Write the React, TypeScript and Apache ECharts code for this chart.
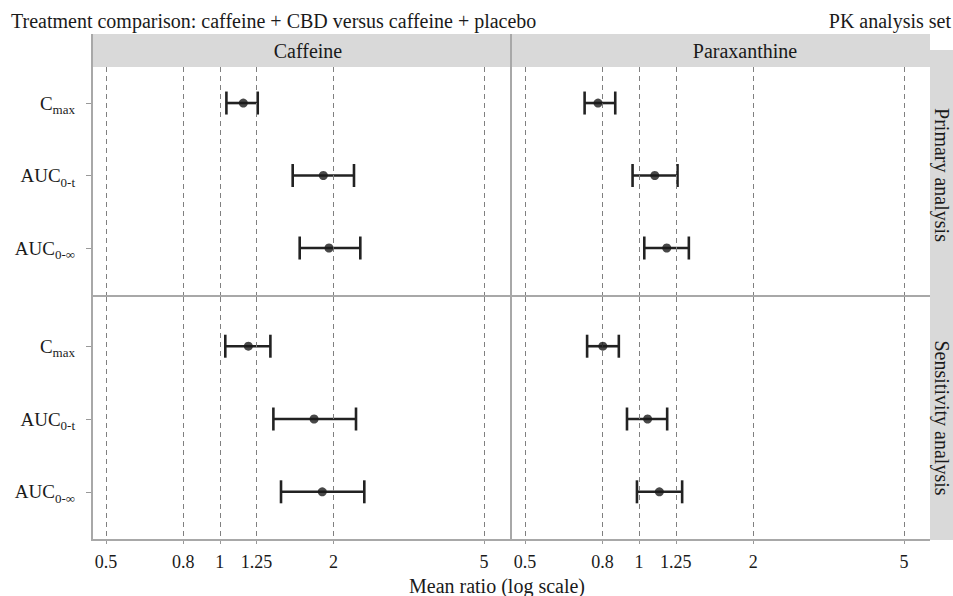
import React, { useEffect, useRef } from 'react';
import * as echarts from 'echarts';

const measureLabels = ['{m|C}{s|max}', '{m|AUC}{s|0-t}', '{m|AUC}{s|0-∞}'];
const analytes = ['Caffeine', 'Paraxanthine'];
const analyses = ['Primary analysis', 'Sensitivity analysis'];
const xTicks = [0.5, 0.8, 1, 1.25, 2, 5];

// rows: Cmax, AUC0-t, AUC0-inf ; each [point, lower, upper]
const caffeinePrimary = [[1.154, 1.041, 1.26], [1.879, 1.559, 2.265], [1.945, 1.627, 2.354]];
const caffeineSensitivity = [[1.19, 1.034, 1.361], [1.776, 1.386, 2.293], [1.867, 1.452, 2.412]];
const paraxanthinePrimary = [[0.779, 0.718, 0.865], [1.1, 0.961, 1.263], [1.183, 1.032, 1.353]];
const paraxanthineSensitivity = [[0.802, 0.729, 0.884], [1.053, 0.929, 1.186], [1.131, 0.987, 1.299]];

const FONT = 'Liberation Serif';
const TXT = '#1a1a1a';
const BORDER = '#a8a8a8';

export default function App() {
  const ref = useRef<HTMLDivElement>(null);
  useEffect(() => {
    document.body.style.margin = '0';
    if (!ref.current) return;
    const chart = echarts.init(ref.current, null, { renderer: 'svg' });

    const panels = [
      { data: caffeinePrimary, left: 92, width: 418, top: 67, height: 229, ymin: 0.503, ymax: 3.662, col: 0, row: 0 },
      { data: paraxanthinePrimary, left: 511, width: 419, top: 67, height: 229, ymin: 0.503, ymax: 3.662, col: 1, row: 0 },
      { data: caffeineSensitivity, left: 92, width: 418, top: 297, height: 243, ymin: 0.324, ymax: 3.662, col: 0, row: 1 },
      { data: paraxanthineSensitivity, left: 511, width: 419, top: 297, height: 243, ymin: 0.324, ymax: 3.662, col: 1, row: 1 },
    ];

    const grid = panels.map(p => ({ left: p.left, width: p.width, top: p.top, height: p.height, containLabel: false }));
    const xAxis = panels.map((p, i) => ({
      type: 'log',
      logBase: 10,
      gridIndex: i,
      min: 0.459,
      max: 5.86,
      axisLine: { show: false },
      splitLine: { show: false },
      axisTick: { show: p.row === 1, customValues: xTicks, length: 4, lineStyle: { color: '#999' } },
      axisLabel: {
        show: p.row === 1,
        customValues: xTicks,
        margin: 13,
        fontSize: 18,
        fontFamily: FONT,
        color: TXT,
        formatter: (v: number) => String(+Number(v).toPrecision(3)),
      },
    }));
    const yAxis = panels.map((p, i) => ({
      type: 'value',
      gridIndex: i,
      inverse: true,
      min: p.ymin,
      max: p.ymax,
      axisLine: { show: false },
      splitLine: { show: false },
      axisTick: { show: p.col === 0, customValues: [1, 2, 3], length: 6, lineStyle: { color: '#999' } },
      axisLabel: {
        show: p.col === 0,
        customValues: [1, 2, 3],
        margin: 17,
        formatter: (v: number) => measureLabels[Math.round(v) - 1] || '',
        rich: {
          m: { fontSize: 19, fontFamily: FONT, color: TXT, lineHeight: 20 },
          s: { fontSize: 13, fontFamily: FONT, color: TXT, lineHeight: 13, padding: [13, 0, 0, 0] },
        },
      },
    }));

    const series: any[] = [];
    panels.forEach((p, i) => {
      series.push({
        type: 'scatter',
        xAxisIndex: i,
        yAxisIndex: i,
        symbolSize: 0,
        z: 1,
        silent: true,
        data: p.data.map((d, k) => [d[0], k + 1]),
        markLine: {
          silent: true,
          symbol: ['none', 'none'],
          label: { show: false },
          lineStyle: { color: '#808080', width: 1, type: [5, 4] },
          data: xTicks.map(v => ({ xAxis: v })),
        },
      });
      series.push({
        type: 'custom',
        xAxisIndex: i,
        yAxisIndex: i,
        z: 3,
        encode: { x: [0, 1], y: 2 },
        data: p.data.map((d, k) => [d[1], d[2], k + 1]),
        renderItem: (params: any, api: any) => {
          const y = api.value(2);
          const a = api.coord([api.value(0), y]);
          const b = api.coord([api.value(1), y]);
          const h = 11.5;
          const style = { stroke: '#222', lineWidth: 2.6 };
          return {
            type: 'group',
            children: [
              { type: 'line', shape: { x1: a[0], y1: a[1], x2: b[0], y2: b[1] }, style },
              { type: 'line', shape: { x1: a[0], y1: a[1] - h, x2: a[0], y2: a[1] + h }, style },
              { type: 'line', shape: { x1: b[0], y1: b[1] - h, x2: b[0], y2: b[1] + h }, style },
            ],
          };
        },
      });
      series.push({
        type: 'scatter',
        xAxisIndex: i,
        yAxisIndex: i,
        symbol: 'circle',
        symbolSize: 9,
        z: 5,
        itemStyle: { color: '#1a1a1a' },
        data: p.data.map((d, k) => [d[0], k + 1]),
      });
    });

    const txt = (x: number, y: number, text: string, align: string, extra: any = {}) => ({
      type: 'text',
      x,
      y,
      z: 10,
      style: { text, fontSize: 20, fontFamily: FONT, fill: TXT, align, verticalAlign: 'middle' },
      ...extra,
    });
    const ln = (x1: number, y1: number, x2: number, y2: number) => ({
      type: 'line',
      z: 8,
      shape: { x1, y1, x2, y2 },
      style: { stroke: BORDER, lineWidth: 2 },
    });

    const graphic = [
      { type: 'rect', z: 0, shape: { x: 92, y: 34, width: 838, height: 33 }, style: { fill: '#d9d9d9' } },
      { type: 'rect', z: 0, shape: { x: 930, y: 50, width: 23, height: 490 }, style: { fill: '#d9d9d9' } },
      txt(11, 21, 'Treatment comparison: caffeine + CBD versus caffeine + placebo', 'left'),
      txt(951, 21, 'PK analysis set', 'right'),
      txt(308, 51, analytes[0], 'center'),
      txt(745, 51, analytes[1], 'center'),
      txt(942, 175, analyses[0], 'center', { rotation: -Math.PI / 2 }),
      txt(942, 418, analyses[1], 'center', { rotation: -Math.PI / 2 }),
      txt(497, 586, 'Mean ratio (log scale)', 'center'),
      ln(92, 34, 92, 541),
      ln(511, 34, 511, 541),
      ln(91, 296, 930, 296),
      ln(91, 540, 930, 540),
    ];

    chart.setOption({
      animation: false,
      backgroundColor: '#ffffff',
      grid,
      xAxis,
      yAxis,
      series,
      graphic,
    } as any);
    return () => chart.dispose();
  }, []);
  return <div ref={ref} style={{ width: 953, height: 596 }} />;
}
